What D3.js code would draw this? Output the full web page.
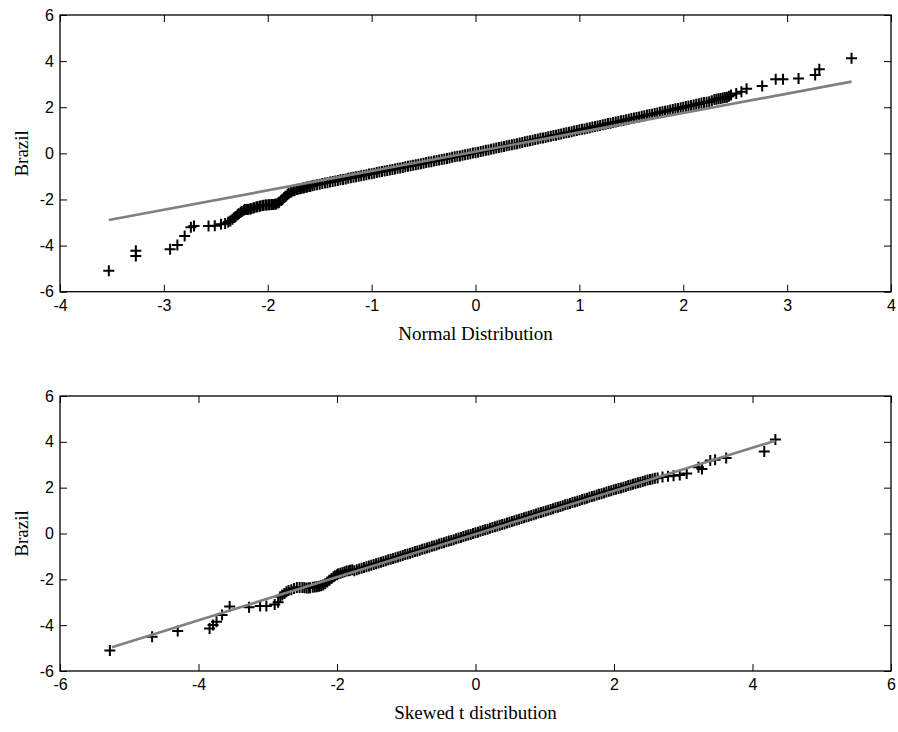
<!DOCTYPE html>
<html>
<head>
<meta charset="utf-8">
<script src="https://cdn.jsdelivr.net/npm/d3@7"></script>
<style>
  body { margin: 0; background: #fff; }
  svg { display: block; }
  .tick text { font-family: "Liberation Sans", Arial, sans-serif; font-size: 16px; fill: #000; }
  .lab { font-family: "Liberation Serif", "Times New Roman", serif; font-size: 19px; fill: #000; }
</style>
</head>
<body>
<svg id="chart" width="898" height="732"></svg>
<script>
// top panel: sample quantiles vs normal quantiles  [theoretical, sample]
const normalQQ = [
  [-3.53,-5.09],[-3.27,-4.22],[-3.27,-4.45],[-2.94,-4.16],[-2.87,-3.97],[-2.80,-3.58],
  [-2.74,-3.21],[-2.71,-3.15],[-2.57,-3.15],[-2.51,-3.14],[-2.45,-3.08],[-2.41,-3.04],
  [-2.38,-2.98],[-2.36,-2.93],[-2.34,-2.86],[-2.32,-2.78],[-2.31,-2.74],[-2.29,-2.66],
  [-2.28,-2.62],[-2.26,-2.55],[-2.25,-2.52],[-2.23,-2.47],[-2.22,-2.44],[-2.20,-2.43],
  [-2.19,-2.42],[-2.17,-2.41],[-2.16,-2.40],[-2.14,-2.37],[-2.13,-2.36],[-2.11,-2.33],
  [-2.10,-2.32],[-2.08,-2.29],[-2.07,-2.28],[-2.05,-2.26],[-2.04,-2.25],[-2.02,-2.24],
  [-2.01,-2.24],[-1.99,-2.23],[-1.98,-2.23],[-1.96,-2.22],[-1.95,-2.22],[-1.93,-2.21],
  [-1.92,-2.20],[-1.90,-2.15],[-1.89,-2.12],[-1.87,-2.05],[-1.86,-2.00],[-1.84,-1.91],
  [-1.83,-1.86],[-1.81,-1.78],[-1.80,-1.74],[-1.78,-1.69],[-1.77,-1.66],[-1.75,-1.62],
  [-1.74,-1.60],[-1.72,-1.57],[-1.71,-1.56],[-1.69,-1.53],[-1.68,-1.52],[-1.66,-1.50],
  [-1.65,-1.49],[-1.63,-1.47],[-1.62,-1.46],[-1.60,-1.44],[-1.59,-1.43],[-1.57,-1.41],
  [-1.550,-1.38],[-1.525,-1.36],[-1.500,-1.34],[-1.475,-1.31],[-1.450,-1.29],[-1.425,-1.27],
  [-1.400,-1.24],[-1.375,-1.22],[-1.350,-1.20],[-1.325,-1.18],[-1.300,-1.15],[-1.275,-1.13],
  [-1.250,-1.11],[-1.225,-1.08],[-1.200,-1.06],[-1.175,-1.04],[-1.150,-1.02],[-1.125,-0.99],
  [-1.100,-0.97],[-1.075,-0.95],[-1.050,-0.93],[-1.025,-0.90],[-1.000,-0.88],[-0.975,-0.86],
  [-0.950,-0.83],[-0.925,-0.81],[-0.900,-0.79],[-0.875,-0.77],[-0.850,-0.74],[-0.825,-0.72],
  [-0.800,-0.70],[-0.775,-0.68],[-0.750,-0.65],[-0.725,-0.63],[-0.700,-0.61],[-0.675,-0.58],
  [-0.650,-0.56],[-0.625,-0.54],[-0.600,-0.52],[-0.575,-0.49],[-0.550,-0.47],[-0.525,-0.45],
  [-0.500,-0.43],[-0.475,-0.40],[-0.450,-0.38],[-0.425,-0.36],[-0.400,-0.33],[-0.375,-0.31],
  [-0.350,-0.29],[-0.325,-0.27],[-0.300,-0.24],[-0.275,-0.22],[-0.250,-0.20],[-0.225,-0.17],
  [-0.200,-0.15],[-0.175,-0.13],[-0.150,-0.11],[-0.125,-0.08],[-0.100,-0.06],[-0.075,-0.04],
  [-0.050,-0.02],[-0.025,0.01],[0.000,0.03],[0.025,0.05],[0.050,0.08],[0.075,0.10],
  [0.100,0.13],[0.125,0.15],[0.150,0.18],[0.175,0.20],[0.200,0.23],[0.225,0.25],
  [0.250,0.28],[0.275,0.30],[0.300,0.33],[0.325,0.35],[0.350,0.37],[0.375,0.40],
  [0.400,0.42],[0.425,0.45],[0.450,0.47],[0.475,0.50],[0.500,0.52],[0.525,0.55],
  [0.550,0.57],[0.575,0.60],[0.600,0.62],[0.625,0.65],[0.650,0.67],[0.675,0.69],
  [0.700,0.72],[0.725,0.74],[0.750,0.77],[0.775,0.79],[0.800,0.82],[0.825,0.84],
  [0.850,0.87],[0.875,0.89],[0.900,0.92],[0.925,0.94],[0.950,0.97],[0.975,0.99],
  [1.000,1.02],[1.025,1.04],[1.050,1.06],[1.075,1.09],[1.100,1.11],[1.125,1.14],
  [1.150,1.16],[1.175,1.19],[1.200,1.21],[1.225,1.24],[1.250,1.26],[1.275,1.29],
  [1.300,1.31],[1.325,1.34],[1.350,1.36],[1.375,1.38],[1.400,1.41],[1.425,1.43],
  [1.450,1.46],[1.475,1.48],[1.500,1.51],[1.525,1.53],[1.550,1.56],[1.575,1.58],
  [1.600,1.61],[1.625,1.63],[1.650,1.66],[1.675,1.68],[1.700,1.70],[1.725,1.73],
  [1.750,1.75],[1.775,1.78],[1.800,1.80],[1.825,1.83],[1.850,1.85],[1.875,1.88],
  [1.900,1.90],[1.925,1.93],[1.950,1.95],[1.975,1.98],[2.000,2.00],[2.025,2.03],
  [2.050,2.05],[2.075,2.08],[2.100,2.10],[2.125,2.13],[2.150,2.15],[2.175,2.18],
  [2.200,2.20],[2.225,2.22],[2.250,2.24],[2.275,2.28],
  [2.30,2.33],[2.32,2.35],[2.34,2.37],[2.36,2.38],[2.38,2.40],[2.40,2.42],[2.42,2.43],
  [2.44,2.48],[2.46,2.53],[2.51,2.60],[2.56,2.67],[2.61,2.80],[2.76,2.92],[2.89,3.21],
  [2.96,3.21],[3.11,3.25],[3.27,3.40],[3.31,3.65],[3.62,4.12]
];
const normalFit = [[-3.53,-2.89],[3.62,3.11]];

// bottom panel: sample quantiles vs skewed t quantiles
const skewTQQ = [
  [-5.28,-5.11],[-4.67,-4.50],[-4.30,-4.25],[-3.84,-4.15],[-3.79,-3.99],[-3.74,-3.85],
  [-3.66,-3.56],[-3.55,-3.19],[-3.27,-3.22],[-3.11,-3.16],[-3.02,-3.16],[-2.90,-3.10],
  [-2.85,-3.00],[-2.82,-2.76],[-2.79,-2.68],[-2.76,-2.62],[-2.73,-2.54],[-2.70,-2.49],
  [-2.66,-2.45],[-2.62,-2.40],[-2.58,-2.36],[-2.54,-2.36],[-2.50,-2.36],[-2.47,-2.37],
  [-2.44,-2.38],[-2.41,-2.38],[-2.39,-2.37],[-2.35,-2.35],[-2.32,-2.33],[-2.29,-2.32],
  [-2.26,-2.30],[-2.23,-2.28],[-2.20,-2.25],[-2.17,-2.19],[-2.14,-2.12],[-2.11,-2.04],
  [-2.08,-1.96],[-2.05,-1.89],[-2.03,-1.84],[-2.00,-1.80],[-1.98,-1.76],[-1.95,-1.73],
  [-1.92,-1.70],[-1.89,-1.67],[-1.86,-1.64],[-1.83,-1.62],[-1.81,-1.60],[-1.78,-1.58],
  [-1.750,-1.62],[-1.715,-1.58],[-1.680,-1.55],[-1.645,-1.52],[-1.610,-1.48],[-1.575,-1.45],
  [-1.540,-1.42],[-1.505,-1.38],[-1.470,-1.35],[-1.435,-1.32],[-1.400,-1.29],[-1.365,-1.25],
  [-1.330,-1.22],[-1.295,-1.19],[-1.260,-1.15],[-1.225,-1.12],[-1.190,-1.09],[-1.155,-1.06],
  [-1.120,-1.02],[-1.085,-0.99],[-1.050,-0.96],[-1.015,-0.92],[-0.980,-0.89],[-0.945,-0.86],
  [-0.910,-0.83],[-0.875,-0.79],[-0.840,-0.76],[-0.805,-0.73],[-0.770,-0.69],[-0.735,-0.66],
  [-0.700,-0.63],[-0.665,-0.60],[-0.630,-0.56],[-0.595,-0.53],[-0.560,-0.50],[-0.525,-0.46],
  [-0.490,-0.43],[-0.455,-0.40],[-0.420,-0.36],[-0.385,-0.33],[-0.350,-0.30],[-0.315,-0.27],
  [-0.280,-0.23],[-0.245,-0.20],[-0.210,-0.17],[-0.175,-0.13],[-0.140,-0.10],[-0.105,-0.07],
  [-0.070,-0.04],[-0.035,0.00],[0.000,0.03],[0.035,0.06],[0.070,0.10],[0.105,0.13],
  [0.140,0.16],[0.175,0.19],[0.210,0.23],[0.245,0.26],[0.280,0.29],[0.315,0.33],
  [0.350,0.36],[0.385,0.39],[0.420,0.42],[0.455,0.46],[0.490,0.49],[0.525,0.52],
  [0.560,0.56],[0.595,0.59],[0.630,0.62],[0.665,0.66],[0.700,0.69],[0.735,0.72],
  [0.770,0.75],[0.805,0.79],[0.840,0.82],[0.875,0.85],[0.910,0.89],[0.945,0.92],
  [0.980,0.95],[1.015,0.98],[1.050,1.02],[1.085,1.05],[1.120,1.08],[1.155,1.12],
  [1.190,1.15],[1.225,1.18],[1.260,1.21],[1.295,1.25],[1.330,1.28],[1.365,1.31],
  [1.400,1.35],[1.435,1.38],[1.470,1.41],[1.505,1.44],[1.540,1.48],[1.575,1.51],
  [1.610,1.54],[1.645,1.58],[1.680,1.61],[1.715,1.64],[1.750,1.68],[1.785,1.71],
  [1.820,1.74],[1.855,1.77],[1.890,1.81],[1.925,1.84],[1.960,1.87],[1.995,1.91],
  [2.030,1.93],[2.065,1.96],[2.100,1.99],[2.135,2.02],[2.170,2.05],[2.205,2.09],
  [2.240,2.12],[2.275,2.15],[2.310,2.18],[2.345,2.21],[2.380,2.24],[2.415,2.27],
  [2.450,2.30],[2.485,2.33],[2.520,2.36],[2.555,2.38],[2.590,2.41],
  [2.63,2.42],[2.70,2.47],[2.78,2.50],[2.86,2.52],[2.95,2.55],[3.05,2.62],
  [3.22,2.89],[3.27,2.81],[3.39,3.19],[3.46,3.22],[3.62,3.29],[4.17,3.58],[4.33,4.10]
];
const skewFit = [[-5.25,-4.96],[4.33,4.05]];

const topXTicks = [-4,-3,-2,-1,0,1,2,3,4];
const botXTicks = [-6,-4,-2,0,2,4,6];
const yTicks = [-6,-4,-2,0,2,4,6];

const svg = d3.select("#chart");
const left = 60, right = 891;

function drawPanel(top, bottom, xDomain, xTicks, pts, fit, xLabel) {
  const x = d3.scaleLinear().domain(xDomain).range([left, right]);
  const y = d3.scaleLinear().domain([-6, 6]).range([bottom, top]);
  const g = svg.append("g");

  // crosses
  g.append("g").selectAll("path")
    .data(pts)
    .enter().append("path")
    .attr("d", d => `M${x(d[0]) - 5.5},${y(d[1])}H${x(d[0]) + 5.5}M${x(d[0])},${y(d[1]) - 5.5}V${y(d[1]) + 5.5}`)
    .attr("stroke", "#000")
    .attr("stroke-width", 2)
    .attr("fill", "none");

  // reference line
  g.append("path")
    .datum(fit)
    .attr("d", d3.line().x(d => x(d[0])).y(d => y(d[1])))
    .attr("stroke", "#808080")
    .attr("stroke-width", 2.6)
    .attr("fill", "none");

  const fmt = d => String(d);
  const ax = (sel) => { sel.select(".domain").remove(); sel.selectAll(".tick line").attr("stroke", "#000"); };

  g.append("g").attr("transform", `translate(0,${bottom})`)
    .call(d3.axisBottom(x).tickValues(xTicks).tickFormat(fmt).tickSize(-7).tickPadding(8))
    .call(ax);
  g.append("g").attr("transform", `translate(0,${top})`)
    .call(d3.axisTop(x).tickValues(xTicks).tickFormat("").tickSize(-7))
    .call(ax);
  g.append("g").attr("transform", `translate(${left},0)`)
    .call(d3.axisLeft(y).tickValues(yTicks).tickFormat(fmt).tickSize(-7).tickPadding(6))
    .call(ax);
  g.append("g").attr("transform", `translate(${right},0)`)
    .call(d3.axisRight(y).tickValues(yTicks).tickFormat("").tickSize(-7))
    .call(ax);

  g.append("rect")
    .attr("x", left).attr("y", top)
    .attr("width", right - left).attr("height", bottom - top)
    .attr("fill", "none").attr("stroke", "#000").attr("stroke-width", 1.3);

  g.append("text").attr("class", "lab")
    .attr("x", (left + right) / 2).attr("y", bottom + 48)
    .attr("text-anchor", "middle").text(xLabel);
  g.append("text").attr("class", "lab")
    .attr("transform", `translate(28,${(top + bottom) / 2}) rotate(-90)`)
    .attr("text-anchor", "middle").text("Brazil");
}

drawPanel(15, 291.7, [-4, 4], topXTicks, normalQQ, normalFit, "Normal Distribution");
drawPanel(396, 671, [-6, 6], botXTicks, skewTQQ, skewFit, "Skewed t distribution");
</script>
</body>
</html>
